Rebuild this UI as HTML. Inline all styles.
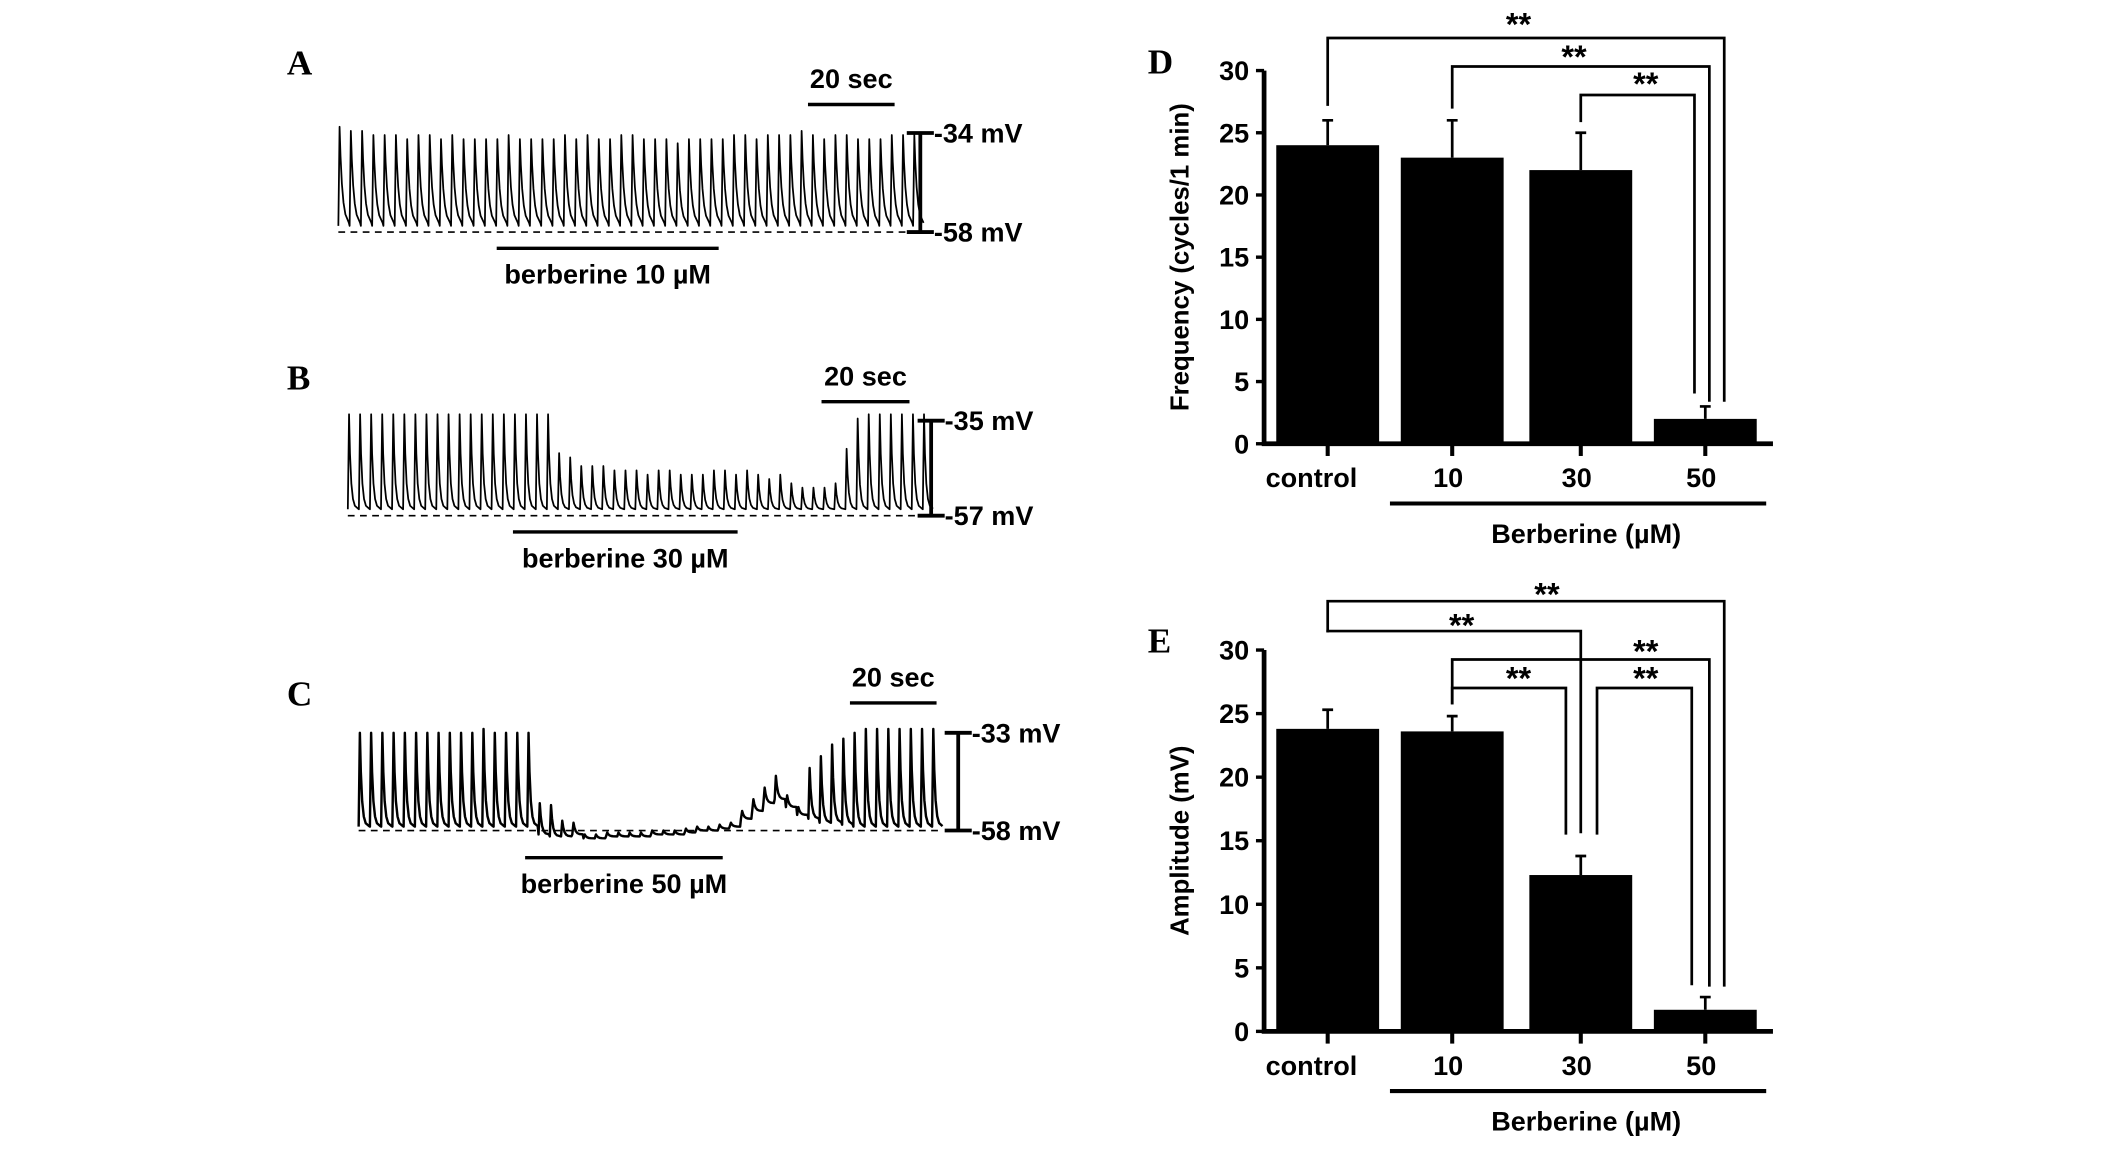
<!DOCTYPE html>
<html><head><meta charset="utf-8">
<style>
html,body{margin:0;padding:0;background:#fff;}
svg{display:block;}
text{font-family:"Liberation Sans",Arial,sans-serif;font-weight:bold;fill:#000;}
.lt{font-family:"Liberation Serif",serif;font-weight:bold;}
</style></head>
<body>
<svg id="fig" width="2126" height="1164" viewBox="0 0 1552 850" preserveAspectRatio="none" xmlns="http://www.w3.org/2000/svg">
  <rect x="0" y="0" width="1552" height="850" fill="#fff"/>
  <g transform="scale(0.988,0.991)">
  <g id="traces"></g>
  <g id="bars"></g>
  </g>
</svg>
<script>
// ---------- trace data (mV above resting baseline) ----------
const peaksA = [24,23,23,22,22,22,21,22,22,21,22,21,21,21,21,22,21,21,21,21,22,21,22,21,21,22,22,21,21,21,20,21,21,21,21,22,22,21,22,22,22,23,22,21,22,22,21,21,21,22,22,22];
const baseA = [1.5];
const peaksB = [22,22,22,22,22,22,22,22,22,22,22,22,22,22,22,22,22,22,22,13,12,10,10,10,9,9,9,8,9,9,8,8,8,9,9,8,9,8,7,8,6,5,5,5,6,14,21,22,22,22,22,22,22];
const baseB = [1.5];
const peaksC = [24,24,24,24,24,24,24,24,24,24,24,25,24,24,24,24,8,8,4,3,1,1,1,1,1,1,1,1,1,1,1,1,1,1,2,3,4,6,3,2,13,17,20,22,24,25,25,25,25,25,25,25];
const baseC = [1,1,1,1,1,1,1,1,1,1,1,1,1,1,1,1,-1,-1.5,-1.5,-1,-2,-2,-1.5,-1.5,-1.5,-1.5,-1,-1,-1,-0.5,0,0,0.5,1,3,5,7,8,6,4,3,2,2,1.5,1,1,1,1,1,1,1,1];

// ---------- bar data ----------
const categories = ["control","10","30","50"];
const freqValues = [24,23,22,2];
const freqErrors = [2,3,3,1];
const ampValues = [23.8,23.6,12.3,1.7];
const ampErrors = [1.5,1.2,1.5,1];
const yTicks = [0,5,10,15,20,25,30];

const NS="http://www.w3.org/2000/svg";
function mk(tag,attrs,parent,txt){const e=document.createElementNS(NS,tag);for(const k in attrs)e.setAttribute(k,attrs[k]);if(txt!==undefined)e.textContent=txt;parent.appendChild(e);return e;}

const traces=document.getElementById('traces');
const barsG=document.getElementById('bars');

function trace(cfg){
  const g=mk('g',{},traces);
  
  
  const L=mk('text',{x:cfg.letterX,y:cfg.letterY,'font-size':26,class:'lt'},g,cfg.letter);
  
  
  const n=cfg.peaks.length, sp=(cfg.x1-cfg.x0)/n;
  const yOf=v=>cfg.y0 - v*cfg.pxPerMv;
  const tau=cfg.tau||1.3;
  const d=mk('line',{x1:cfg.x0,x2:cfg.x1,y1:cfg.y0,y2:cfg.y0,stroke:'#000','stroke-width':1.2,'stroke-dasharray':'5,4'},g);
  
  
  let p='';
  for(let i=0;i<n;i++){
    const b=cfg.base.length>1?cfg.base[i]:cfg.base[0];
    const h=cfg.peaks[i];
    const x=cfg.x0+i*sp;
    p+=(i===0?'M':'L')+x.toFixed(2)+','+yOf(b).toFixed(2);
    p+='L'+(x+0.9).toFixed(2)+','+yOf(b+h).toFixed(2);
    const steps=[1.6,2.6,3.8,5.2,sp-0.6];
    for(const dt of steps){
      const v=b+h*Math.exp(-(dt-0.9)/tau);
      p+='L'+(x+dt).toFixed(2)+','+yOf(v).toFixed(2);
    }
  }
  const tr=mk('path',{d:p,fill:'none',stroke:'#000','stroke-width':cfg.sw||1.3,'stroke-linejoin':'round'},g);
  
  
  const tb=mk('line',{x1:cfg.secX0,x2:cfg.secX1,y1:cfg.secY,y2:cfg.secY,stroke:'#000','stroke-width':2.5},g);
  
  
  const tt=mk('text',{x:(cfg.secX0+cfg.secX1)/2,y:cfg.secY-12,'font-size':20,'text-anchor':'middle'},g,'20 sec');
  
  
  const vs=mk('path',{d:`M${cfg.vX-10},${cfg.vTop}H${cfg.vX+10}M${cfg.vX},${cfg.vTop}V${cfg.y0}M${cfg.vX-10},${cfg.y0}H${cfg.vX+10}`,stroke:'#000','stroke-width':2.8,fill:'none'},g);
  
  
  const v1=mk('text',{x:cfg.vX+10,y:cfg.vTop+7,'font-size':20},g,cfg.topLabel);
  
  
  const v2=mk('text',{x:cfg.vX+10,y:cfg.y0+7,'font-size':20},g,cfg.botLabel);
  
  
  const db=mk('line',{x1:cfg.drX0,x2:cfg.drX1,y1:cfg.drY,y2:cfg.drY,stroke:'#000','stroke-width':2.5},g);
  
  
  const dt=mk('text',{x:(cfg.drX0+cfg.drX1)/2,y:cfg.drY+26,'font-size':20,'text-anchor':'middle','xml:space':'preserve'},g,cfg.drug);
  
  
}

trace({name:'panel-a-trace',letter:'A',letterX:212,letterY:55,x0:250,x1:683,y0:171,pxPerMv:73/24,peaks:peaksA,base:baseA,tau:2.0,
  secX0:597,secX1:661,secY:77,vX:680,vTop:98,topLabel:'-34 mV',botLabel:'-58 mV',drX0:367,drX1:531,drY:183,drug:'berberine 10 µM'});
trace({name:'panel-b-trace',letter:'B',letterX:212,letterY:287,x0:257,x1:690,y0:380,pxPerMv:70/22,peaks:peaksB,base:baseB,
  secX0:607,secX1:672,secY:296,vX:688,vTop:310,topLabel:'-35 mV',botLabel:'-57 mV',drX0:379,drX1:545,drY:392,drug:'berberine  30 µM'});
trace({name:'panel-c-trace',letter:'C',letterX:212,letterY:520,x0:265,x1:697,y0:612,pxPerMv:72/25,peaks:peaksC,base:baseC,sw:1.8,
  secX0:628,secX1:692,secY:518,vX:708,vTop:540,topLabel:'-33 mV',botLabel:'-58 mV',drX0:388,drX1:534,drY:632,drug:'berberine 50 µM'});

function barChart(cfg){
  const g=mk('g',{},barsG);
  
  
  const ax=934, xEnd=1310, centers=[981,1073,1168,1260], bw=76;
  const yS=v=>cfg.y0-(v/30)*(cfg.y0-cfg.y30);
  const L=mk('text',{x:848,y:cfg.y30+2,'font-size':26,class:'lt'},g,cfg.letter);
  
  
  categories.forEach((c,i)=>{
    const v=cfg.values[i], e=cfg.errors[i], cx=centers[i];
    const r=mk('rect',{x:cx-bw/2,y:yS(v),width:bw,height:cfg.y0-yS(v),fill:'#000'},g);
    
    
    const eb=mk('path',{d:`M${cx},${yS(v)}V${yS(v+e)}M${cx-4},${yS(v+e)}H${cx+4}`,stroke:'#000','stroke-width':2,fill:'none'},g);
    
    
    const tk=mk('line',{x1:cx,x2:cx,y1:cfg.y0,y2:cfg.y0+9,stroke:'#000','stroke-width':3},g);
    
    
    const tl=mk('text',{x:i===0?cx-12:cx-3,y:cfg.y0+32,'font-size':20,'text-anchor':'middle'},g,c);
    
    
  });
  const axes=mk('path',{d:`M${ax},${cfg.y30}V${cfg.y0}H${xEnd}`,stroke:'#000','stroke-width':3.5,fill:'none'},g);
  
  
  yTicks.forEach(t=>{
    const tk=mk('line',{x1:ax-6,x2:ax,y1:yS(t),y2:yS(t),stroke:'#000','stroke-width':2.5},g);
    
    
    const tl=mk('text',{x:ax-11,y:yS(t)+7,'font-size':20,'text-anchor':'end'},g,String(t));
    
    
  });
  const yt=mk('text',{x:0,y:0,'font-size':19,'text-anchor':'middle',transform:`translate(878,${(cfg.y0+cfg.y30)/2}) rotate(-90)`},g,cfg.ytitle);
  
  
  const bl=mk('line',{x1:1027,x2:1305,y1:cfg.y0+44,y2:cfg.y0+44,stroke:'#000','stroke-width':3},g);
  
  
  const bt=mk('text',{x:1172,y:cfg.y0+73,'font-size':20,'text-anchor':'middle'},g,'Berberine (µM)');
  
  
  cfg.brackets.forEach((b,k)=>{
    const br=mk('path',{d:`M${b.x1},${b.l1}V${b.y}H${b.x2}V${b.l2}`,stroke:'#000','stroke-width':2,fill:'none'},g);
    
    
    const st=mk('text',{x:b.sx,y:b.sy,'font-size':24,'text-anchor':'middle'},g,'**');
    
    
  });
}

barChart({name:'panel-d-frequency',letter:'D',y30:52,y0:327,values:freqValues,errors:freqErrors,ytitle:'Frequency (cycles/1 min)',
  brackets:[
    {x1:981,x2:1274,y:28,l1:78,l2:296,sx:1122,sy:26},
    {x1:1073,x2:1263,y:49,l1:80,l2:296,sx:1163,sy:50},
    {x1:1168,x2:1252,y:70,l1:90,l2:290,sx:1216,sy:70}
  ]});
barChart({name:'panel-e-amplitude',letter:'E',y30:479,y0:760,values:ampValues,errors:ampErrors,ytitle:'Amplitude (mV)',
  brackets:[
    {x1:981,x2:1274,y:443,l1:466,l2:727,sx:1143,sy:446},
    {x1:981,x2:1168,y:465,l1:466,l2:614,sx:1080,sy:469},
    {x1:1073,x2:1263,y:486,l1:519,l2:727,sx:1216,sy:488},
    {x1:1073,x2:1157,y:507,l1:519,l2:615,sx:1122,sy:508},
    {x1:1180,x2:1250,y:507,l1:615,l2:726,sx:1216,sy:508}
  ]});
</script>
</body></html>
